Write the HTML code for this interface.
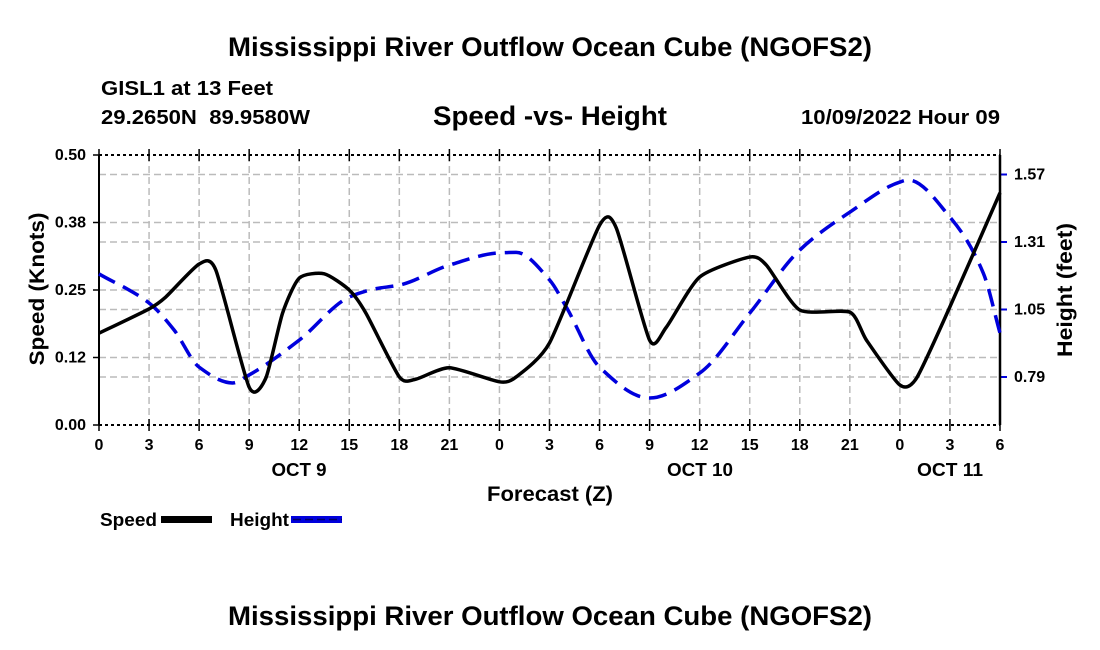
<!DOCTYPE html>
<html><head><meta charset="utf-8"><style>
html,body{margin:0;padding:0;background:#fff;}
svg{display:block;font-family:"Liberation Sans",Arial,sans-serif;font-weight:bold;}
</style></head><body>
<svg id="chart" width="1100" height="650" viewBox="0 0 1100 650">
<text x="550" y="56" text-anchor="middle" font-size="27" textLength="644" lengthAdjust="spacingAndGlyphs">Mississippi River Outflow Ocean Cube (NGOFS2)</text>
<text x="101" y="95" font-size="20" textLength="172" lengthAdjust="spacingAndGlyphs">GISL1 at 13 Feet</text>
<text x="101" y="124" font-size="20" textLength="209" lengthAdjust="spacingAndGlyphs">29.2650N&#160;&#160;89.9580W</text>
<text x="550" y="125" text-anchor="middle" font-size="27" textLength="234" lengthAdjust="spacingAndGlyphs">Speed -vs- Height</text>
<text x="1000" y="124" text-anchor="end" font-size="20" textLength="199" lengthAdjust="spacingAndGlyphs">10/09/2022 Hour 09</text>
<g id="grid"></g>
<g id="axes"></g>
<g id="series"></g>
<text transform="translate(44,289) rotate(-90)" text-anchor="middle" font-size="21" textLength="153" lengthAdjust="spacingAndGlyphs">Speed (Knots)</text>
<text transform="translate(1072,290) rotate(-90)" text-anchor="middle" font-size="21" textLength="134" lengthAdjust="spacingAndGlyphs">Height (feet)</text>
<text x="299" y="476" text-anchor="middle" font-size="18" textLength="55" lengthAdjust="spacingAndGlyphs">OCT 9</text>
<text x="700" y="476" text-anchor="middle" font-size="18" textLength="66" lengthAdjust="spacingAndGlyphs">OCT 10</text>
<text x="950" y="476" text-anchor="middle" font-size="18" textLength="66" lengthAdjust="spacingAndGlyphs">OCT 11</text>
<text x="550" y="501" text-anchor="middle" font-size="21" textLength="126" lengthAdjust="spacingAndGlyphs">Forecast (Z)</text>
<g>
<text x="100" y="526" font-size="18" textLength="57" lengthAdjust="spacingAndGlyphs">Speed</text>
<rect x="161" y="516" width="51" height="7" fill="#000"/>
</g>
<g>
<text x="230" y="526" font-size="18" textLength="59" lengthAdjust="spacingAndGlyphs">Height</text>
<rect x="291" y="516" width="51" height="7" fill="#0000dd"/>
<line x1="293" y1="519.5" x2="342" y2="519.5" stroke="#000066" stroke-width="1.5" stroke-dasharray="8,4"/>
</g>
<text x="550" y="625" text-anchor="middle" font-size="27" textLength="644" lengthAdjust="spacingAndGlyphs">Mississippi River Outflow Ocean Cube (NGOFS2)</text>
</svg>
<script>
const xTickLabels = ["0","3","6","9","12","15","18","21","0","3","6","9","12","15","18","21","0","3","6"];
const leftTicks = [0.00, 0.125, 0.25, 0.375, 0.50];
const leftTickLabels = ["0.00","0.12","0.25","0.38","0.50"];
const rightTicks = [0.79, 1.05, 1.31, 1.57];
const rightTickLabels = ["0.79","1.05","1.31","1.57"];
const speedHours = [0,3,4,6,7,9,10,11,12,13.5,15,16,18,19,21,24,25,27,30,31,33,34,36,39,40,42,45,46,48,49,51,54];
const speedValues = [0.170,0.215,0.237,0.298,0.287,0.070,0.087,0.207,0.272,0.280,0.250,0.207,0.089,0.085,0.106,0.080,0.089,0.152,0.370,0.365,0.157,0.181,0.274,0.311,0.296,0.213,0.209,0.157,0.074,0.087,0.219,0.430];
const heightHours = [0,3,4.5,6,8,9,12,15,16.5,18,21,24,25,27,28,30,33,36,39,42,45,48,48.5,51,53,54];
const heightValues = [1.187,1.075,0.971,0.828,0.767,0.798,0.932,1.098,1.129,1.144,1.221,1.268,1.270,1.164,1.060,0.828,0.709,0.805,1.036,1.279,1.425,1.541,1.549,1.406,1.190,0.959];

const X0=99, X1=1000, YT=155, YB=425;
const xScale = h => X0 + (X1-X0)*h/54;
const yLeft = v => YB - (YB-YT)*v/0.5;
const yRight = v => 377 - (v-0.79)*(67.5/0.26);
const NS="http://www.w3.org/2000/svg";
function mk(tag, attrs, parent){const e=document.createElementNS(NS,tag);for(const k in attrs)e.setAttribute(k,attrs[k]);parent.appendChild(e);return e;}
const grid=document.getElementById('grid'), axes=document.getElementById('axes'), series=document.getElementById('series');

xTickLabels.forEach((lab,i)=>{
  const x=xScale(i*3);
  if(i>0&&i<xTickLabels.length-1){
    const g=mk('line',{x1:x,y1:YT,x2:x,y2:YB,stroke:'#bbb','stroke-width':1.5,'stroke-dasharray':'7,4'},grid);
    
    
  }
  const t=mk('line',{x1:x,y1:YB-6,x2:x,y2:YB+6,stroke:'#000','stroke-width':1.5},axes);
  
  
  mk('line',{x1:x,y1:YT-6,x2:x,y2:YT+6,stroke:'#000','stroke-width':1.5},axes);
  const tx=mk('text',{x:x,y:450,'text-anchor':'middle','font-size':16},axes);
  tx.textContent=lab;
  
  
});
leftTicks.forEach((v,i)=>{
  const y=yLeft(v);
  if(i>0&&i<leftTicks.length-1){
    const g=mk('line',{x1:X0,y1:y,x2:X1,y2:y,stroke:'#bbb','stroke-width':1.5,'stroke-dasharray':'7,4'},grid);
    
    
  }
  mk('line',{x1:X0-6,y1:y,x2:X0,y2:y,stroke:'#000','stroke-width':1.5},axes);
  const tx=mk('text',{x:86,y:y+5,'text-anchor':'end','font-size':16},axes);
  tx.textContent=leftTickLabels[i];
  
  
});
rightTicks.forEach((v,i)=>{
  const y=yRight(v);
  const g=mk('line',{x1:X0,y1:y,x2:X1,y2:y,stroke:'#bbb','stroke-width':1.5,'stroke-dasharray':'7,4'},grid);
  
  
  mk('line',{x1:X1,y1:y,x2:X1+7,y2:y,stroke:'#0000dd','stroke-width':2},axes);
  const tx=mk('text',{x:1014,y:y+5,'font-size':16},axes);
  tx.textContent=rightTickLabels[i];
  
  
});
mk('line',{x1:X0,y1:YT,x2:X1,y2:YT,stroke:'#000','stroke-width':2,'stroke-dasharray':'3,3'},axes);
mk('line',{x1:X0,y1:YB,x2:X1,y2:YB,stroke:'#000','stroke-width':2,'stroke-dasharray':'3,3'},axes);
mk('line',{x1:X0,y1:YT,x2:X0,y2:YB,stroke:'#000','stroke-width':2},axes);
mk('line',{x1:X1,y1:YT,x2:X1,y2:YB,stroke:'#000','stroke-width':2.5},axes);

function monoPath(pts){
  const n=pts.length, dx=[], m=[], t=new Array(n);
  for(let i=0;i<n-1;i++){dx.push(pts[i+1][0]-pts[i][0]);m.push((pts[i+1][1]-pts[i][1])/dx[i]);}
  t[0]=m[0]; t[n-1]=m[n-2];
  for(let i=1;i<n-1;i++){
    if(m[i-1]*m[i]<=0) t[i]=0;
    else{const w1=2*dx[i]+dx[i-1], w2=dx[i]+2*dx[i-1]; t[i]=(w1+w2)/(w1/m[i-1]+w2/m[i]);}
  }
  let d=`M${pts[0][0]},${pts[0][1]}`;
  for(let i=0;i<n-1;i++){
    const h=dx[i]/3;
    d+=` C${pts[i][0]+h},${pts[i][1]+t[i]*h} ${pts[i+1][0]-h},${pts[i+1][1]-t[i+1]*h} ${pts[i+1][0]},${pts[i+1][1]}`;
  }
  return d;
}
function crPath(pts,k){
  let d=`M${pts[0][0]},${pts[0][1]}`;
  for(let i=0;i<pts.length-1;i++){
    const p0=pts[Math.max(0,i-1)],p1=pts[i],p2=pts[i+1],p3=pts[Math.min(pts.length-1,i+2)];
    d+=` C${p1[0]+(p2[0]-p0[0])/k},${p1[1]+(p2[1]-p0[1])/k} ${p2[0]-(p3[0]-p1[0])/k},${p2[1]-(p3[1]-p1[1])/k} ${p2[0]},${p2[1]}`;
  }
  return d;
}
const hp=mk('path',{d:monoPath(heightHours.map((h,i)=>[xScale(h),yRight(heightValues[i])])),fill:'none',stroke:'#0000dd','stroke-width':3.5,'stroke-dasharray':'18,9'},series);


const sp=mk('path',{d:crPath(speedHours.map((h,i)=>[xScale(h),yLeft(speedValues[i])]),9),fill:'none',stroke:'#000','stroke-width':3.5,'stroke-linejoin':'round'},series);


</script>
</body></html>
